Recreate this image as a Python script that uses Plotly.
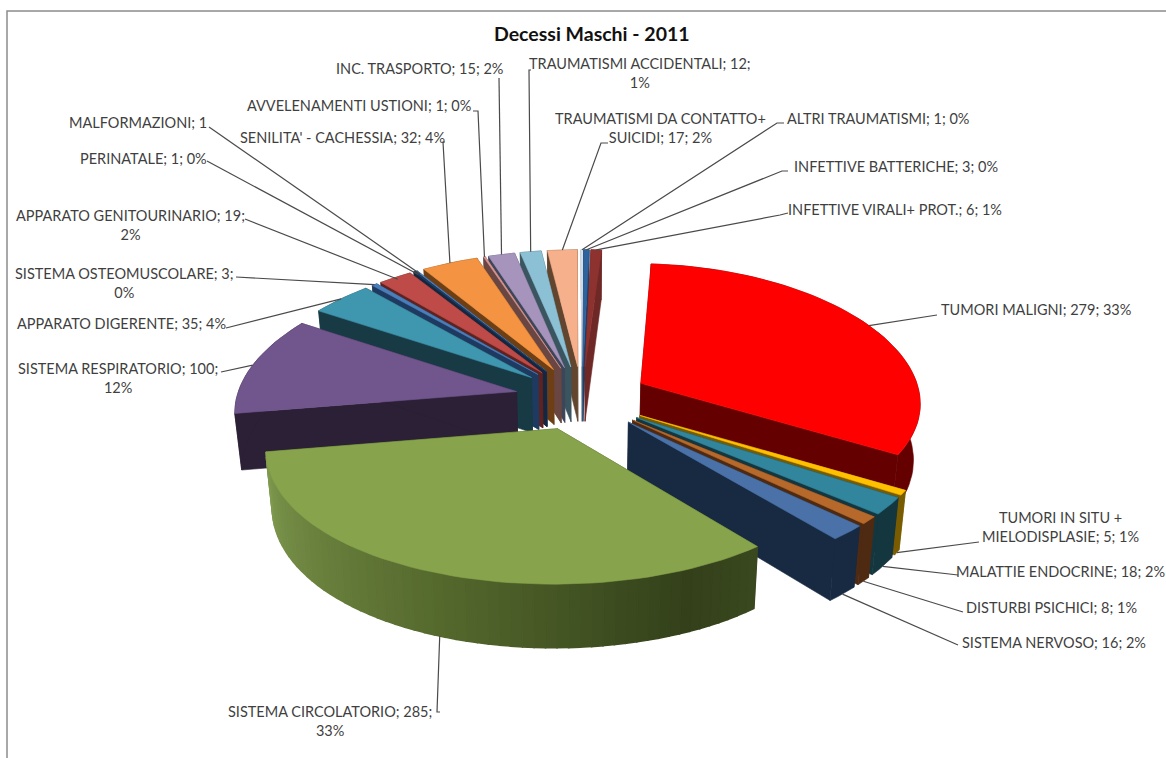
import math
import plotly.graph_objects as go

# ---------- data ----------
categories = ["TUMORI MALIGNI", "TUMORI IN SITU + MIELODISPLASIE", "MALATTIE ENDOCRINE", "DISTURBI PSICHICI",
              "SISTEMA NERVOSO", "SISTEMA CIRCOLATORIO", "SISTEMA RESPIRATORIO", "APPARATO DIGERENTE",
              "SISTEMA OSTEOMUSCOLARE", "APPARATO GENITOURINARIO", "PERINATALE", "MALFORMAZIONI",
              "SENILITA' - CACHESSIA", "AVVELENAMENTI USTIONI", "INC. TRASPORTO", "TRAUMATISMI ACCIDENTALI",
              "TRAUMATISMI DA CONTATTO+ SUICIDI", "ALTRI TRAUMATISMI", "INFETTIVE BATTERICHE", "INFETTIVE VIRALI+ PROT."]
values = [279, 5, 18, 8, 16, 285, 100, 35, 3, 19, 1, 1, 32, 1, 15, 12, 17, 1, 3, 6]
labels = ["TUMORI MALIGNI; 279; 33%", "TUMORI IN SITU +<br>MIELODISPLASIE; 5; 1%", "MALATTIE ENDOCRINE; 18; 2%",
          "DISTURBI PSICHICI; 8; 1%", "SISTEMA NERVOSO; 16; 2%", "SISTEMA CIRCOLATORIO; 285;<br>33%",
          "SISTEMA RESPIRATORIO; 100;<br>12%", "APPARATO DIGERENTE; 35; 4%", "SISTEMA OSTEOMUSCOLARE; 3;<br>0%",
          "APPARATO GENITOURINARIO; 19;<br>2%", "PERINATALE; 1; 0%", "MALFORMAZIONI; 1",
          "SENILITA' - CACHESSIA; 32; 4%", "AVVELENAMENTI USTIONI; 1; 0%", "INC. TRASPORTO; 15; 2%",
          "TRAUMATISMI ACCIDENTALI; 12;<br>1%", "TRAUMATISMI DA CONTATTO+<br>SUICIDI; 17; 2%",
          "ALTRI TRAUMATISMI; 1; 0%", "INFETTIVE BATTERICHE; 3; 0%", "INFETTIVE VIRALI+ PROT.; 6; 1%"]
title = "Decessi Maschi - 2011"

# ---------- styles ----------
top_colors = ["#FF0000", "#FFC000", "#31859C", "#B7692C", "#4A72A8", "#87A34B", "#71568E", "#3F96AF", "#4A7EBB",
              "#BE4B48", "#1F3F66", "#4F81BD", "#F49342", "#DA9694", "#A694BC", "#8CC1D5", "#F6B08B", "#DCE6F2",
              "#2F639E", "#8E3230"]
side_colors = ["#650000", "#7A5C00", "#14363F", "#4F2A12", "#182A42", "#3A4A1A", "#2B2035", "#173A45", "#1F3A60",
               "#5E2220", "#16263E", "#27406A", "#6E3F14", "#6A4642", "#3C4658", "#3A5560", "#62452F", "#8899AA",
               "#1E3E66", "#6E2826"]
wall_stops = [(0.0, "#3A4820"), (0.12, "#33401A"), (0.5, "#55692D"), (1.0, "#7F9A4F")]
text_color = "#3F3F3F"
FONT = "Lato"

# label block centres and elbow points (layout, in page pixels)
label_pos = [(1036, 309), (1060, 527), (1060, 571), (1051, 607), (1054, 642), (330, 721), (118, 378), (121, 323),
             (124, 283), (130, 225), (143, 158), (138, 122), (342, 137), (359, 105), (419, 68), (640, 73), (660, 128),
             (878, 118), (896, 166), (895, 209)]
elbows = [[(937, 315)], [(979, 542)], [(958, 575)], [(963, 612)], [(958, 645)], [(440, 712), (437, 712)], [(221, 372)],
          [(226, 328)], [(236, 277)], [(245, 219)], [(207, 161)], [(209, 127)], [(445, 142), (443, 142)],
          [(473, 111), (478, 111)], [(499, 78)], [(531, 70), (529, 70)], [(608, 143), (601, 143)],
          [(784, 123), (777, 123)], [(788, 171), (782, 171)], [(788, 213), (780, 215)]]
anchor_z = [0, 1, 1, 1, 1, 1, 0, 0, 0, 0, 0, 0, 0, 0, 0, 0, 0, 0, 0, 0]
anchor_r = [1, 1, 1, 1, 1, 1, 1, 1, 1, .98, .97, .97, 1, 1, 1, 1, 1, 1, 1, 1]

# projection of the tilted, exploded pie
CX, CY, F, G, K, KX, D = 582, 398, 280, 134, 0.097, 0.13, 56
PULL = 0.24
START = 4.0


def proj(X, Y, z=0.0):
    w = 1 + K * Y
    return CX + F * X / (1 + KX * Y) * (1 - 0.02 * z), CY - G * Y / w + D * z / w


def blend(c1, c2, t):
    a = [int(c1[i:i + 2], 16) for i in (1, 3, 5)]
    b = [int(c2[i:i + 2], 16) for i in (1, 3, 5)]
    return "#%02X%02X%02X" % tuple(round(p + (q - p) * t) for p, q in zip(a, b))


def ramp(t):
    for (t0, c0), (t1, c1) in zip(wall_stops, wall_stops[1:]):
        if t <= t1:
            return blend(c0, c1, (t - t0) / (t1 - t0))
    return wall_stops[-1][1]


def poly(pts, color, lw=0.6):
    return go.Scatter(x=[p[0] for p in pts] + [pts[0][0]], y=[p[1] for p in pts] + [pts[0][1]], mode="lines",
                      fill="toself", fillcolor=color, line=dict(color=color, width=lw), hoverinfo="skip",
                      showlegend=False)


total = sum(values)
slices = []
angle = START
for i, v in enumerate(values):
    sweep = 360 * v / total
    slices.append(dict(i=i, a0=angle, a1=angle + sweep, mid=angle + sweep / 2))
    angle += sweep


def point(s, a, r=1.0):
    m = math.radians(s["mid"])
    t = math.radians(a)
    return r * math.sin(t) + PULL * math.sin(m), r * math.cos(t) + PULL * math.cos(m)


fig = go.Figure()
for s in sorted(slices, key=lambda q: -math.cos(math.radians(q["mid"]))):
    i = s["i"]
    n = max(2, int((s["a1"] - s["a0"]) / 2) + 1)
    arc = [point(s, s["a0"] + (s["a1"] - s["a0"]) * j / (n - 1)) for j in range(n)]
    apex = point(s, s["a0"], 0.0)
    side = side_colors[i]
    # radial cut faces
    for e in (arc[0], arc[-1]):
        fig.add_trace(poly([proj(*apex), proj(*e), proj(*e, 1), proj(*apex, 1)], side))
    # outer wall, shaded along the arc for the big front slice
    if categories[i] == "SISTEMA CIRCOLATORIO":
        for j in range(n - 1):
            col = ramp(j / (n - 2))
            fig.add_trace(poly([proj(*arc[j]), proj(*arc[j + 1]), proj(*arc[j + 1], 1), proj(*arc[j], 1)], col, 1.6))
    else:
        fig.add_trace(poly([proj(*p) for p in arc] + [proj(*p, 1) for p in reversed(arc)], side))
    # top face
    fig.add_trace(poly([proj(*apex)] + [proj(*p) for p in arc], top_colors[i]))

# leader lines and labels
for s in slices:
    i = s["i"]
    ax = proj(*point(s, s["mid"], anchor_r[i]), anchor_z[i])
    pts = elbows[i] + [ax]
    fig.add_trace(go.Scatter(x=[p[0] for p in pts], y=[p[1] for p in pts], mode="lines",
                             line=dict(color="#4A4A4A", width=1.2), hoverinfo="skip", showlegend=False))
    fig.add_annotation(x=label_pos[i][0], y=label_pos[i][1], text=labels[i], showarrow=False, xanchor="center",
                       yanchor="middle", align="center", font=dict(family=FONT, size=14.5, color=text_color))

fig.add_annotation(x=592, y=33, text="<b>%s</b>" % title, showarrow=False, xanchor="center", yanchor="middle",
                   font=dict(family=FONT, size=19.5, color="#111111"))

fig.update_layout(
    width=1166, height=758, margin=dict(l=0, r=0, t=0, b=0), paper_bgcolor="white", plot_bgcolor="white",
    xaxis=dict(range=[0, 1166], visible=False, fixedrange=True),
    yaxis=dict(range=[758, 0], visible=False, fixedrange=True),
    shapes=[dict(type="rect", x0=7, y0=11, x1=1180, y1=800, line=dict(color="#8C8C8C", width=1.5), layer="below")],
)
fig.write_html("out.html", config={"displayModeBar": False},
               post_script="document.body.style.margin='0';document.documentElement.style.overflow='hidden';")
